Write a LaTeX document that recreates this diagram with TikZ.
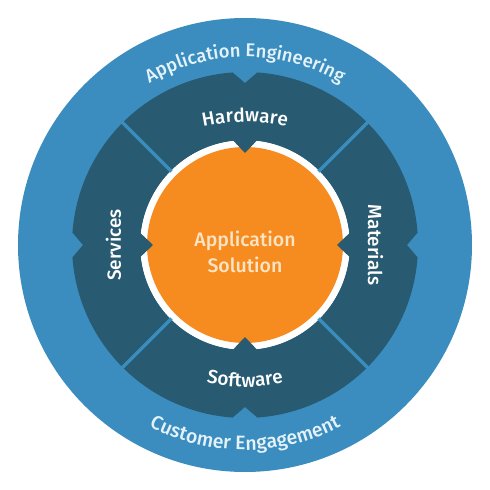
\documentclass[tikz,border=0pt]{standalone}
\usepackage{fontspec}
\setmainfont{Fira Sans Medium}
\usetikzlibrary{decorations.text}
\definecolor{outerblue}{HTML}{3A8DBE}
\definecolor{darkseg}{HTML}{285A71}
\definecolor{orangec}{HTML}{F68B1F}
\definecolor{outertext}{HTML}{E4F2FA}
\definecolor{centertext}{HTML}{FCE4C4}
\tikzset{
  segment/.style={fill=darkseg},
  separator/.style={draw=outerblue, line width=3.2pt},
  ringtext/.style={decorate, decoration={text along path, text align=center, text color=outertext}},
  labeltext/.style={decorate, decoration={text along path, text align=center, text color=white}},
  sidelabel/.style={text=white, font=\fontsize{19pt}{23pt}\selectfont, inner sep=0pt, anchor=base},
  centerlabel/.style={text=centertext, font=\fontsize{19.5pt}{24pt}\selectfont, inner sep=0pt, anchor=base}
}
\begin{document}
\begin{tikzpicture}[x=1pt,y=1pt]
\useasboundingbox (-245,-245) rectangle (245,245);
\fill[white] (-245,-245) rectangle (245,245);
% outer ring
\fill[outerblue] (0,0) circle[radius=227];
% white ring and orange core
\fill[white] (0,0) circle[radius=105];
\fill[orangec] (0,0) circle[radius=98];
% four dark segments with notch (outside) and point (inside)
\foreach \r in {0,90,180,270}{
  \fill[segment, rotate=\r]
    (45:173) arc[start angle=45, end angle=85.9, radius=173]
    -- (90:162) -- (94.1:173)
    arc[start angle=94.1, end angle=135, radius=173]
    -- (135:105)
    arc[start angle=135, end angle=96.4, radius=105]
    -- (90:92) -- (83.6:105)
    arc[start angle=83.6, end angle=45, radius=105]
    -- cycle;
}
% separators
\foreach \a in {45,135,225,315}{
  \draw[separator] (\a:104) -- (\a:175);
}
% outer ring texts
\path[ringtext, decoration={text={|\fontsize{18.5pt}{23pt}\selectfont|Application Engineering}}]
  (160:188) arc[start angle=160, end angle=20, radius=188];
\path[ringtext, decoration={text={|\fontsize{19.5pt}{24pt}\selectfont|Customer Engagement}}]
  (200:205) arc[start angle=200, end angle=340, radius=205];
% segment labels
\path[labeltext, decoration={text={|\fontsize{19pt}{23pt}\selectfont|Hardware}}]
  (-51.76,116.19) arc[start angle=105, end angle=75, radius=200];
\path[labeltext, decoration={text={|\fontsize{19pt}{23pt}\selectfont|Software}}]
  (-61.56,-131.14) arc[start angle=250, end angle=290, radius=180];
\node[sidelabel, rotate=-90] (materials) at (123,0) {Materials};
\node[sidelabel, rotate=90] (services) at (-124,0) {Services};
% centre
\node[centerlabel] (app) at (0,-1) {Application};
\node[centerlabel] (sol) at (0,-27) {Solution};
\end{tikzpicture}
\end{document}
